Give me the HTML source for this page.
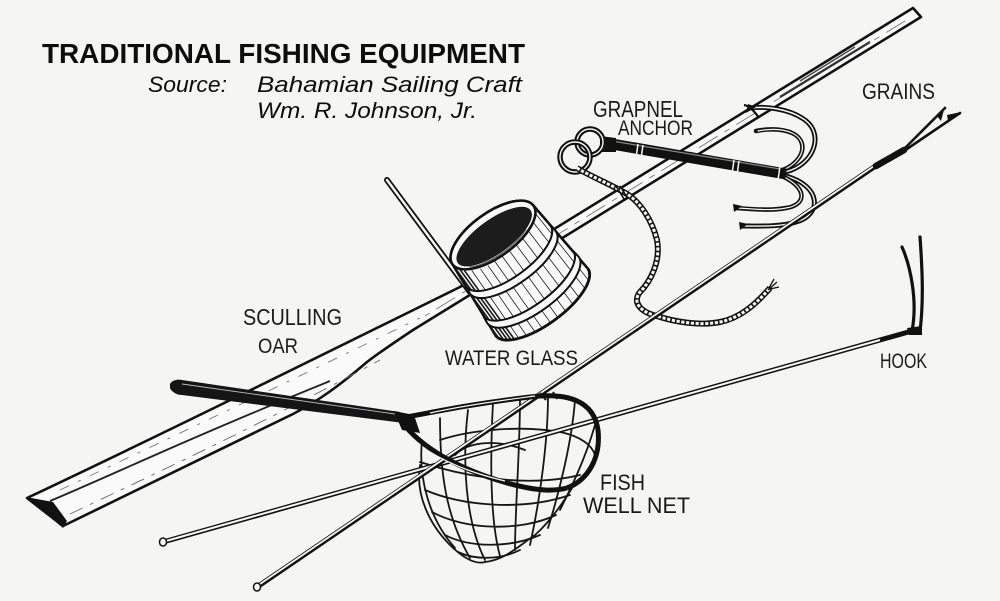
<!DOCTYPE html>
<html><head><meta charset="utf-8">
<style>
html,body{margin:0;padding:0;background:#f5f5f4;}
svg{display:block;}
</style></head>
<body>
<svg width="1000" height="601" viewBox="0 0 1000 601" xmlns="http://www.w3.org/2000/svg">
<rect width="1000" height="601" fill="#f5f5f4"/>

<!-- ===== TITLE ===== -->
<g font-family="'Liberation Sans', Arial, sans-serif" fill="#0d0d0d">
  <text x="42" y="63" font-size="28" font-weight="bold" textLength="483" lengthAdjust="spacingAndGlyphs">TRADITIONAL FISHING EQUIPMENT</text>
  <text x="148" y="92" font-size="22" font-style="italic" textLength="79" lengthAdjust="spacingAndGlyphs">Source:</text>
  <text x="257" y="92" font-size="22" font-style="italic" textLength="265" lengthAdjust="spacingAndGlyphs">Bahamian Sailing Craft</text>
  <text x="257" y="118" font-size="22" font-style="italic" textLength="220" lengthAdjust="spacingAndGlyphs">Wm. R. Johnson, Jr.</text>
</g>

<!-- ===== SCULLING OAR ===== -->
<path d="M913,8 L921,17 L413,330 C395,342 380,352 367,362 C340,385 320,400 293,414 L63,526 L27,498 C150,440 300,366 460,287 Z" fill="#fafafa" stroke="#111" stroke-width="2.6" stroke-linejoin="round"/>
<polygon points="26,497 53,502 67,521 63,528" fill="#111"/>
<path d="M50,501 C110,476 180,442 330,381" fill="none" stroke="#222" stroke-width="1.8"/>
<path d="M70,514 C150,476 250,430 380,360" fill="none" stroke="#666" stroke-width="0.9" stroke-dasharray="14 8 4 8"/>
<path d="M60,490 C140,452 240,405 420,318" fill="none" stroke="#777" stroke-width="0.9" stroke-dasharray="10 10 3 10"/>
<path d="M905,21 L425,316" fill="none" stroke="#777" stroke-width="0.9" stroke-dasharray="22 8 6 8"/>
<path d="M870,42 L780,97" fill="none" stroke="#333" stroke-width="2.2"/>
<path d="M855,47 L800,81" fill="none" stroke="#444" stroke-width="1.4"/>
<path d="M744,105 Q751,106 759,118" fill="none" stroke="#111" stroke-width="2.2"/>

<!-- ===== ROD (by water glass) ===== -->
<line x1="387" y1="180" x2="470" y2="292" stroke="#111" stroke-width="6" stroke-linecap="round"/>
<line x1="387" y1="180" x2="470" y2="292" stroke="#f8f8f8" stroke-width="2.4" stroke-linecap="round"/>

<!-- ===== WATER GLASS (bucket) ===== -->
<defs>
  <clipPath id="bodyclip">
    <path d="M-50,0 L-57,83 A57,22 0 0 0 57,83 L50,0 A50,22 0 0 0 -50,0 Z"/>
  </clipPath>
</defs>
<g transform="translate(493,235) rotate(-36)">
  <path d="M-50,0 L-57,83 A57,22 0 0 0 57,83 L50,0 A50,22 0 0 0 -50,0 Z" fill="#fafafa" stroke="#111" stroke-width="2.6"/>
  <g clip-path="url(#bodyclip)" stroke="#1a1a1a">
    <g stroke-width="1.6">
      <line x1="-56" y1="0" x2="-56" y2="110"/>
      <line x1="-53" y1="0" x2="-53" y2="110"/>
      <line x1="-50" y1="0" x2="-50" y2="110"/>
      <line x1="-47" y1="8" x2="-47" y2="110"/>
      <line x1="-44" y1="12" x2="-44" y2="110"/>
    </g>
    <g stroke-width="0.8">
      <line x1="-38" y1="16" x2="-40" y2="105"/>
      <line x1="-30" y1="20" x2="-32" y2="100"/>
      <line x1="-22" y1="22" x2="-23" y2="106"/>
      <line x1="-14" y1="22" x2="-15" y2="104"/>
      <line x1="-5" y1="22" x2="-5" y2="108"/>
      <line x1="4" y1="22" x2="4" y2="104"/>
      <line x1="13" y1="22" x2="14" y2="108"/>
      <line x1="22" y1="20" x2="24" y2="104"/>
      <line x1="31" y1="17" x2="33" y2="106"/>
      <line x1="40" y1="13" x2="43" y2="100"/>
      <line x1="47" y1="8" x2="51" y2="100"/>
    </g>
  </g>
  <path d="M-52,26 A52,21 0 0 0 52,26 L53,34 A53,21 0 0 1 -53,34 Z" fill="#fafafa" stroke="#111" stroke-width="2"/>
  <path d="M-55.5,60 A55.5,22 0 0 0 55.5,60 L56.5,68 A56.5,22 0 0 1 -56.5,68 Z" fill="#fafafa" stroke="#111" stroke-width="2"/>
  <path d="M-57,83 A57,22 0 0 0 57,83" fill="none" stroke="#111" stroke-width="2.8"/>
  <ellipse cx="0" cy="0" rx="50" ry="22" fill="#fafafa" stroke="#111" stroke-width="2.6"/>
  <ellipse cx="0" cy="2" rx="45" ry="17" fill="#1c1c1c"/>
  <path d="M-38,12 A44,17 0 0 0 30,15" fill="none" stroke="#555" stroke-width="1"/>
</g>

<!-- ===== GRAPNEL ANCHOR ===== -->
<g fill="none" stroke-linecap="round">
  <path d="M785,172 C815,165 826,132 802,118 C788,109 766,106 750,108" stroke="#111" stroke-width="5"/>
  <path d="M785,172 C815,165 826,132 802,118 C788,109 766,106 752,108" stroke="#f7f7f7" stroke-width="1.4"/>
  <path d="M783,170 C806,160 808,140 792,133 C781,128 766,129 756,131" stroke="#111" stroke-width="4.5"/>
  <path d="M783,170 C806,160 808,140 792,133 C781,128 768,129 758,131" stroke="#f7f7f7" stroke-width="1.2"/>
  <path d="M786,176 C822,186 822,215 796,222 C781,227 757,226 742,226" stroke="#111" stroke-width="5"/>
  <path d="M786,176 C822,186 822,215 796,222 C781,227 759,226 744,226" stroke="#f7f7f7" stroke-width="1.4"/>
  <path d="M784,177 C808,189 806,205 786,208 C771,211 750,209 736,208" stroke="#111" stroke-width="4.5"/>
  <path d="M784,177 C808,189 806,205 786,208 C771,211 752,209 738,208" stroke="#f7f7f7" stroke-width="1.2"/>
</g>
<polygon points="748,104 756,107 746,113" fill="#111"/>
<polygon points="733,204 742,206 734,212" fill="#111"/>
<polygon points="739,222 748,224 740,230" fill="#111"/>
<line x1="606" y1="143" x2="786" y2="174" stroke="#111" stroke-width="11"/>
<line x1="612" y1="141" x2="780" y2="169" stroke="#888" stroke-width="1.2"/>
<line x1="638" y1="144" x2="636" y2="158" stroke="#f5f5f4" stroke-width="1.5"/>
<line x1="643" y1="145" x2="641" y2="159" stroke="#f5f5f4" stroke-width="1.5"/>
<line x1="734" y1="160" x2="732" y2="174" stroke="#f5f5f4" stroke-width="1.5"/>
<line x1="739" y1="161" x2="737" y2="175" stroke="#f5f5f4" stroke-width="1.5"/>
<line x1="780" y1="166" x2="778" y2="180" stroke="#f5f5f4" stroke-width="1.5"/>
<polygon points="600,136 616,138 616,152 600,152" fill="#111"/>
<circle cx="590" cy="142" r="13" fill="none" stroke="#111" stroke-width="5.5"/>
<circle cx="590" cy="142" r="13" fill="none" stroke="#f7f7f7" stroke-width="1.4"/>
<circle cx="575" cy="157" r="15" fill="none" stroke="#111" stroke-width="5.5"/>
<circle cx="575" cy="157" r="15" fill="none" stroke="#f7f7f7" stroke-width="1.4"/>

<!-- ===== ROPE ===== -->
<path d="M577,168 C590,176 612,185 627,194 C640,202 652,220 657,240 C661,262 650,282 640,292 C632,302 640,312 657,316 C675,322 700,326 720,322 C740,318 755,305 770,288" fill="none" stroke="#111" stroke-width="6"/>
<path d="M577,168 C590,176 612,185 627,194 C640,202 652,220 657,240 C661,262 650,282 640,292 C632,302 640,312 657,316 C675,322 700,326 720,322 C740,318 755,305 770,288" fill="none" stroke="#f7f7f7" stroke-width="3" stroke-dasharray="3.2 1.6"/>
<path d="M616,186 L624,199 M620,186 L628,199" stroke="#111" stroke-width="1.6"/>
<path d="M768,290 L777,282 M770,289 L779,287 M769,288 L774,279" stroke="#111" stroke-width="1.3"/>

<!-- ===== NET BAG MESH ===== -->
<g fill="none" stroke="#161616" stroke-width="1.8" stroke-linecap="round">
  <path d="M420,465 C415,495 430,525 450,545 C462,557 475,565 485,562 C505,560 520,545 535,535 C552,520 565,500 575,483"/>
  <path d="M422,440 C418,480 430,520 455,548"/>
  <path d="M440,418 C440,470 445,515 470,558"/>
  <path d="M468,410 C462,460 465,520 485,560"/>
  <path d="M493,402 C490,460 490,520 500,556"/>
  <path d="M520,398 C520,450 515,510 515,550"/>
  <path d="M548,396 C548,440 540,500 530,545"/>
  <path d="M575,400 C572,440 560,490 548,528"/>
  <path d="M595,425 C585,460 570,490 560,510"/>
  <path d="M420,462 C450,472 520,490 580,475"/>
  <path d="M425,490 C460,505 520,512 570,495"/>
  <path d="M432,512 C465,530 520,532 556,515"/>
  <path d="M445,535 C470,548 510,548 540,535"/>
  <path d="M458,552 C475,560 500,560 520,550"/>
  <path d="M440,440 C470,430 520,425 560,432 C580,436 592,445 595,455"/>
  <path d="M455,455 C470,440 500,440 525,450"/>
</g>

<!-- ===== HOOK POLE ===== -->
<line x1="163" y1="542" x2="912" y2="331" stroke="#111" stroke-width="5" stroke-linecap="round"/>
<line x1="166" y1="541" x2="880" y2="340" stroke="#f7f7f7" stroke-width="2"/>
<ellipse cx="163" cy="542" rx="3.5" ry="4" fill="#f7f7f7" stroke="#111" stroke-width="1.5"/>
<path d="M912,331 C918,300 910,265 902,247" fill="none" stroke="#111" stroke-width="3.2" stroke-linecap="round"/>
<path d="M920,331 C924,300 922,265 920,237" fill="none" stroke="#111" stroke-width="3.2" stroke-linecap="round"/>
<polygon points="907,328 922,326 922,335 909,335" fill="#111"/>

<!-- ===== GRAINS ===== -->
<line x1="257" y1="587" x2="877" y2="165" stroke="#111" stroke-width="5" stroke-linecap="round"/>
<line x1="260" y1="584" x2="874" y2="166" stroke="#f7f7f7" stroke-width="1.8"/>
<ellipse cx="257" cy="587" rx="3.5" ry="4" fill="#f7f7f7" stroke="#111" stroke-width="1.5"/>
<line x1="876" y1="166" x2="904" y2="150" stroke="#111" stroke-width="6.5" stroke-linecap="round"/>
<path d="M903,150 L945,108 M904,151 L960,113" fill="none" stroke="#111" stroke-width="2.6" stroke-linecap="round"/>
<polygon points="945,106 941,121 937,116" fill="#111"/>
<polygon points="961,112 948,121 947,115" fill="#111"/>

<!-- ===== NET HANDLE + HOOP ===== -->
<path d="M170,384 C172,380 178,379 182,380 L400,412 L404,423 L182,395 C176,395 171,391 170,388 Z" fill="#151515"/>
<line x1="182" y1="384" x2="395" y2="414" stroke="#bbb" stroke-width="0.9"/>
<polygon points="394,411 414,415 420,433 402,430" fill="#111"/>
<path d="M400,418 C430,413 470,404 530,397 C570,392 594,402 598,430 C601,458 588,480 567,488" fill="none" stroke="#111" stroke-width="5"/>
<path d="M430,413 C470,404 520,398 535,396" fill="none" stroke="#f7f7f7" stroke-width="1.2"/>
<path d="M402,422 C420,446 455,468 507,483 C540,492 555,491 567,488" fill="none" stroke="#111" stroke-width="5"/>
<path d="M430,452 C455,467 480,475 505,481" fill="none" stroke="#f7f7f7" stroke-width="1.2"/>
<path d="M540,393 L546,400 M553,392 L557,399" stroke="#111" stroke-width="2"/>

<!-- ===== LABELS ===== -->
<g font-family="'Liberation Sans', Arial, sans-serif" fill="#1a1a1a">
  <text x="593" y="117" font-size="23" textLength="90" lengthAdjust="spacingAndGlyphs">GRAPNEL</text>
  <text x="618" y="135" font-size="21" textLength="75" lengthAdjust="spacingAndGlyphs">ANCHOR</text>
  <text x="862" y="99" font-size="22" textLength="73" lengthAdjust="spacingAndGlyphs">GRAINS</text>
  <text x="243" y="325" font-size="23" textLength="99" lengthAdjust="spacingAndGlyphs">SCULLING</text>
  <text x="258" y="353" font-size="21" textLength="40" lengthAdjust="spacingAndGlyphs">OAR</text>
  <text x="445" y="365" font-size="21" textLength="133" lengthAdjust="spacingAndGlyphs">WATER GLASS</text>
  <text x="880" y="368" font-size="21" textLength="47" lengthAdjust="spacingAndGlyphs">HOOK</text>
  <text x="600" y="490" font-size="22" textLength="45" lengthAdjust="spacingAndGlyphs">FISH</text>
  <text x="583" y="513" font-size="22" textLength="107" lengthAdjust="spacingAndGlyphs">WELL NET</text>
</g>
</svg>
</body></html>
